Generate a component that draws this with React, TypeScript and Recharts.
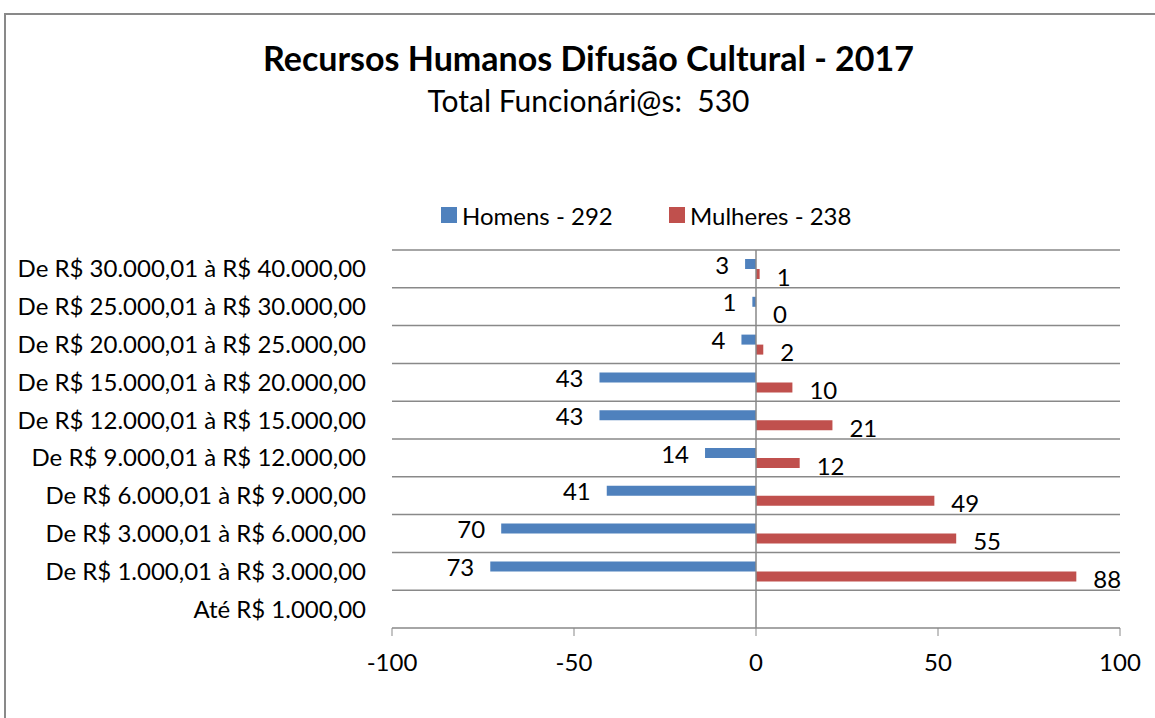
import { BarChart, Bar, XAxis, YAxis, CartesianGrid, Legend, LabelList, ReferenceLine } from 'recharts';

const categorias = [
  'De R$ 30.000,01 à R$ 40.000,00',
  'De R$ 25.000,01 à R$ 30.000,00',
  'De R$ 20.000,01 à R$ 25.000,00',
  'De R$ 15.000,01 à R$ 20.000,00',
  'De R$ 12.000,01 à R$ 15.000,00',
  'De R$ 9.000,01 à R$ 12.000,00',
  'De R$ 6.000,01 à R$ 9.000,00',
  'De R$ 3.000,01 à R$ 6.000,00',
  'De R$ 1.000,01 à R$ 3.000,00',
  'Até R$ 1.000,00',
];

const homens = [3, 1, 4, 43, 43, 14, 41, 70, 73, null];
const mulheres = [1, 0, 2, 10, 21, 12, 49, 55, 88, null];

const xTicks = [-100, -50, 0, 50, 100];

const soma = (arr: (number | null)[]) => arr.reduce<number>((a, v) => a + (v ?? 0), 0);
const totalHomens = soma(homens);
const totalMulheres = soma(mulheres);

const nomeHomens = `Homens - ${totalHomens}`;
const nomeMulheres = `Mulheres - ${totalMulheres}`;

// homens ficam do lado negativo
const data = categorias.map((faixa, i) => ({
  faixa,
  [nomeHomens]: homens[i] == null ? null : -(homens[i] as number),
  [nomeMulheres]: mulheres[i],
}));

const AZUL = '#4F81BD';
const VERMELHO = '#C0504D';
const CINZA = '#898989';
const FONTE = 'Lato, "Open Sans", sans-serif';
const TAM = 24;

const LabelHomens = (props: any) => {
  const { x, y, width, height, value } = props;
  if (value == null) return null;
  const esq = Math.min(x, x + width);
  return (
    <text x={esq - 16} y={y + height / 2} textAnchor="end" dominantBaseline="central"
      fontFamily={FONTE} fontSize={TAM} fill="#000">
      {Math.abs(value)}
    </text>
  );
};

const LabelMulheres = (props: any) => {
  const { x, y, width, height, value } = props;
  if (value == null) return null;
  const dir = Math.max(x, x + width);
  return (
    <text x={dir + 17} y={y + height / 2 + 2} textAnchor="start" dominantBaseline="central"
      fontFamily={FONTE} fontSize={TAM} fill="#000">
      {value}
    </text>
  );
};

const Legenda = (props: any) => {
  const { payload } = props;
  return (
    <div style={{ height: 50, display: 'flex', paddingLeft: 441 }}>
      {(payload || []).map((p: any, i: number) => (
        <div key={i} style={{ display: 'flex', alignItems: 'center', height: 30, width: i === 0 ? 228 : 'auto' }}>
          <span style={{ width: 16, height: 16, background: p.color, display: 'inline-block', marginRight: 5 }} />
          <span style={{ fontFamily: FONTE, fontSize: TAM, color: '#000' }}>{p.value}</span>
        </div>
      ))}
    </div>
  );
};

export default function App() {
  return (
    <div style={{ position: 'relative', width: 1155, height: 718, overflow: 'hidden', background: '#fff' }}>
      <style>{`body{margin:0}`}</style>
      <div style={{ position: 'absolute', left: 4, top: 13, width: 1200, height: 800, border: `2px solid ${CINZA}` }} />
      <div style={{ position: 'absolute', left: 0, top: 40, width: 1177, textAlign: 'center', fontFamily: FONTE, fontWeight: 700, fontSize: 34, lineHeight: '36px' }}>
        Recursos Humanos Difusão Cultural - 2017
      </div>
      <div style={{ position: 'absolute', left: 0, top: 84, width: 1177, textAlign: 'center', fontFamily: FONTE, fontSize: 30, lineHeight: '32px', whiteSpace: 'pre' }}>
        {`Total Funcionári@s:  ${totalHomens + totalMulheres}`}
      </div>
      <div style={{ position: 'absolute', left: 0, top: 0 }}>
        <BarChart
          width={1155}
          height={718}
          data={data}
          layout="vertical"
          barSize={10}
          barGap={0}
          margin={{ top: 200, right: 35, bottom: 0, left: 0 }}
        >
          <CartesianGrid
            vertical={false}
            stroke={CINZA}
            strokeWidth={1.5}
            horizontalCoordinatesGenerator={({ offset }: any) =>
              categorias.map((_, i) => offset.top + (i * offset.height) / categorias.length)}
          />
          <XAxis
            type="number"
            domain={[-100, 100]}
            ticks={xTicks}
            height={90}
            stroke={CINZA}
            tickSize={8}
            tickMargin={18}
            tick={{ fontFamily: FONTE, fontSize: TAM, fill: '#000' }}
            axisLine={{ stroke: CINZA, strokeWidth: 1.5 }}
          />
          <YAxis
            type="category"
            dataKey="faixa"
            width={392}
            axisLine={false}
            tickLine={false}
            tickSize={0}
            tickMargin={26}
            interval={0}
            tick={{ fontFamily: FONTE, fontSize: TAM, fill: '#000' }}
          />
          <Legend verticalAlign="top" align="center" content={<Legenda />} />
          <ReferenceLine x={0} stroke={CINZA} strokeWidth={1.5} />
          <Bar dataKey={nomeHomens} fill={AZUL} isAnimationActive={false}>
            <LabelList dataKey={nomeHomens} content={<LabelHomens />} />
          </Bar>
          <Bar
            dataKey={nomeMulheres}
            fill={VERMELHO}
            minPointSize={(v: any) => (v === 0 ? 0.01 : 0)}
            isAnimationActive={false}
          >
            <LabelList dataKey={nomeMulheres} content={<LabelMulheres />} />
          </Bar>
        </BarChart>
      </div>
    </div>
  );
}
